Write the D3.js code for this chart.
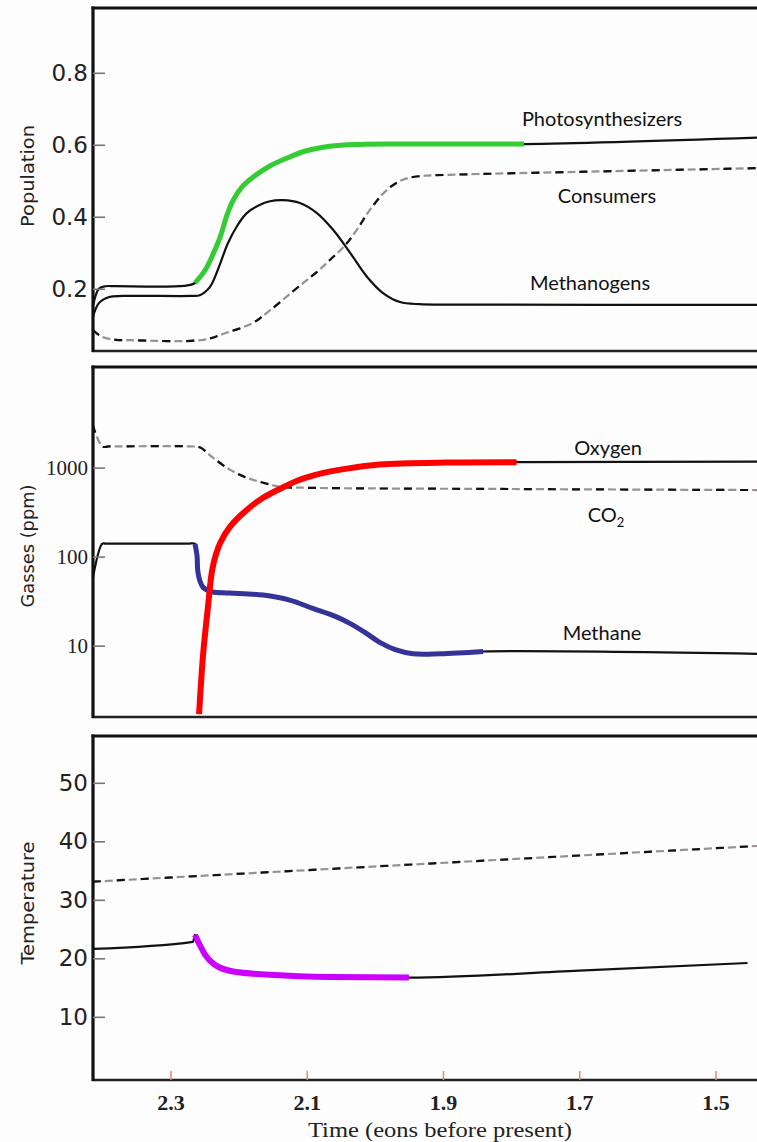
<!DOCTYPE html>
<html><head><meta charset="utf-8">
<script src="https://cdn.jsdelivr.net/npm/d3@7"></script>
<style>body{margin:0;background:#fff} svg{display:block}</style>
</head><body><svg id="chart" width="757" height="1142"></svg>
<script>
// ---------- DATA (time in eons before present) ----------
const xTicks = [2.3, 2.1, 1.9, 1.7, 1.5];
const popTicks = [0.2, 0.4, 0.6, 0.8];
const gasTicks = [10, 100, 1000];
const tempTicks = [10, 20, 30, 40, 50];

const photoTime = [2.414, 2.405, 2.395, 2.380, 2.280, 2.264, 2.249, 2.238, 2.227, 2.217, 2.208, 2.194, 2.179, 2.154, 2.129, 2.103, 2.066, 2.022, 1.963, 1.781, 1.439];
const photoVals = [0.150, 0.200, 0.207, 0.207, 0.208, 0.216, 0.252, 0.294, 0.344, 0.405, 0.446, 0.485, 0.510, 0.541, 0.563, 0.582, 0.596, 0.601, 0.602, 0.602, 0.620];
const photoHighlight = [2.264, 1.781];

const methanogenTime = [2.414, 2.405, 2.390, 2.370, 2.270, 2.257, 2.242, 2.227, 2.216, 2.202, 2.188, 2.170, 2.154, 2.135, 2.110, 2.085, 2.061, 2.036, 2.011, 1.988, 1.963, 1.934, 1.900, 1.439];
const methanogenVals = [0.120, 0.160, 0.177, 0.180, 0.180, 0.182, 0.205, 0.270, 0.325, 0.375, 0.410, 0.432, 0.443, 0.446, 0.438, 0.410, 0.363, 0.299, 0.232, 0.188, 0.163, 0.157, 0.156, 0.155];

const consumerTime = [2.414, 2.400, 2.380, 2.360, 2.252, 2.219, 2.179, 2.154, 2.106, 2.084, 2.066, 2.044, 2.026, 2.007, 1.982, 1.959, 1.934, 1.900, 1.439];
const consumerVals = [0.085, 0.066, 0.058, 0.057, 0.058, 0.077, 0.105, 0.140, 0.215, 0.248, 0.280, 0.320, 0.365, 0.420, 0.475, 0.503, 0.513, 0.516, 0.535];

const co2Time = [2.414, 2.400, 2.390, 2.270, 2.257, 2.238, 2.213, 2.188, 2.164, 2.139, 2.100, 1.800, 1.439];
const co2Vals = [3000, 1730, 1730, 1730, 1690, 1300, 950, 770, 677, 610, 594, 575, 560];

const oxygenTime = [2.258, 2.252, 2.245, 2.238, 2.227, 2.213, 2.188, 2.164, 2.139, 2.114, 2.080, 2.041, 1.993, 1.894, 1.792, 1.439];
const oxygenVals = [1.7, 8.1, 26.9, 76, 142, 215, 335, 458, 579, 713, 855, 974, 1081, 1140, 1150, 1170];
const oxygenHighlight = [2.258, 1.792];

const methaneTime = [2.414, 2.400, 2.395, 2.275, 2.264, 2.261, 2.260, 2.257, 2.252, 2.246, 2.238, 2.213, 2.164, 2.125, 2.091, 2.058, 2.036, 2.014, 1.992, 1.970, 1.944, 1.904, 1.841, 1.439];
const methaneVals = [57, 140, 140, 140, 139, 102, 70, 54, 45, 42, 40, 39, 37, 32.5, 26.2, 21.3, 17.7, 14.0, 10.8, 9.0, 8.1, 8.1, 8.6, 8.1];
const methaneHighlight = [2.264, 1.841];

const tempTime = [2.414, 2.267, 2.264, 2.257, 2.249, 2.235, 2.206, 2.154, 2.066, 1.950, 1.700, 1.453];
const tempVals = [21.6, 22.8, 24.0, 22.3, 20.6, 18.9, 17.7, 17.2, 16.8, 16.7, 17.9, 19.2];
const tempHighlight = [2.264, 1.950];

const tempDashTime = [2.414, 1.919, 1.439];
const tempDashVals = [33.1, 36.2, 39.2];

// ---------- LAYOUT ----------
const svg = d3.select("#chart");
svg.append("rect").attr("width", 757).attr("height", 1142).attr("fill", "#fdfdfd");
const L = 93, R = 770;
const panels = {
  pop: {top: 8, bottom: 351},
  gas: {top: 367, bottom: 717},
  temp: {top: 736, bottom: 1080}
};

const x = d3.scaleLinear().domain([2.4137, 1.4200]).range([L, R]);
const yPop = d3.scaleLinear().domain([0.027, 0.98]).range([panels.pop.bottom, panels.pop.top]);
const yGas = d3.scaleLog().domain([1.58, 13500]).range([panels.gas.bottom, panels.gas.top]);
const yTemp = d3.scaleLinear().domain([-0.8, 58]).range([panels.temp.bottom, panels.temp.top]);

const zip = (t, v) => t.map((d, i) => ({t: d, v: v[i]}));
const within = (data, h) => data.filter(d => d.t <= h[0] + 1e-9 && d.t >= h[1] - 1e-9);

const defs = svg.append("defs");
Object.entries(panels).forEach(([k, p]) => {
  defs.append("clipPath").attr("id", "clip-" + k)
    .append("rect").attr("x", L).attr("y", p.top).attr("width", R - L).attr("height", p.bottom - p.top);
});

const smooth = d3.curveCatmullRom.alpha(0.5);
function drawLine(g, data, y, opts) {
  const gen = d3.line().x(d => x(d.t)).y(d => y(d.v)).curve(opts.curve || smooth);
  if (opts.dashed) {
    g.append("path").attr("d", gen(data)).attr("fill", "none")
      .attr("stroke", "#9b918c").attr("stroke-width", 2.2).attr("stroke-dasharray", "8,4");
    g.append("path").attr("d", gen(data)).attr("fill", "none")
      .attr("stroke", "#111").attr("stroke-width", 2.2).attr("stroke-dasharray", "8,16");
  } else {
    g.append("path").attr("d", gen(data)).attr("fill", "none")
      .attr("stroke", opts.color || "#111").attr("stroke-width", opts.width || 2.2)
      .attr("stroke-linecap", "butt").attr("stroke-linejoin", "round");
  }
}

function frame(p) {
  const g = svg.append("g");
  g.append("line").attr("x1", L - 1.5).attr("x2", R).attr("y1", p.top).attr("y2", p.top)
    .attr("stroke", "#111").attr("stroke-width", 3);
  g.append("line").attr("x1", L - 1).attr("x2", R).attr("y1", p.bottom).attr("y2", p.bottom)
    .attr("stroke", "#222").attr("stroke-width", 2.4);
  g.append("line").attr("x1", L).attr("x2", L).attr("y1", p.top - 1.5).attr("y2", p.bottom + 1)
    .attr("stroke", "#111").attr("stroke-width", 3.2);
}

function yAxis(scale, ticks, fmt, font, size) {
  const g = svg.append("g").attr("transform", `translate(${L},0)`)
    .call(d3.axisLeft(scale).tickValues(ticks).tickSize(-12).tickPadding(5).tickFormat(fmt));
  g.select(".domain").remove();
  g.selectAll(".tick line").attr("stroke", "#777").attr("stroke-width", 1.6);
  g.selectAll(".tick text").attr("fill", "#222").style("font-family", font).style("font-size", size + "px");
}

function yTitle(text, cy, len) {
  svg.append("text").attr("transform", `translate(34,${cy}) rotate(-90)`)
    .attr("text-anchor", "middle").attr("fill", "#222")
    .style("font-family", "DejaVu Sans").style("font-size", "17px")
    .attr("textLength", len).attr("lengthAdjust", "spacingAndGlyphs")
    .text(text);
}

function seriesLabel(text, cx, base) {
  return svg.append("text").attr("x", cx).attr("y", base).attr("text-anchor", "middle")
    .attr("fill", "#111").style("font-family", "Lato").style("font-size", "20px").text(text);
}

// ---------- TOP PANEL: Population ----------
const gPop = svg.append("g").attr("clip-path", "url(#clip-pop)");
const photo = zip(photoTime, photoVals);
drawLine(gPop, zip(consumerTime, consumerVals), yPop, {dashed: true});
drawLine(gPop, zip(methanogenTime, methanogenVals), yPop, {});
drawLine(gPop, photo, yPop, {});
drawLine(gPop, within(photo, photoHighlight), yPop, {color: "#33cc33", width: 5});
frame(panels.pop);
yAxis(yPop, popTicks, d3.format(".1f"), "DejaVu Sans", 23);
yTitle("Population", 176, 102);
seriesLabel("Photosynthesizers", 602, 126);
seriesLabel("Consumers", 607, 203);
seriesLabel("Methanogens", 590, 290);

// ---------- MIDDLE PANEL: Gasses ----------
const gGas = svg.append("g").attr("clip-path", "url(#clip-gas)");
const oxy = zip(oxygenTime, oxygenVals);
const meth = zip(methaneTime, methaneVals);
drawLine(gGas, zip(co2Time, co2Vals), yGas, {dashed: true});
drawLine(gGas, oxy, yGas, {});
drawLine(gGas, meth, yGas, {});
drawLine(gGas, within(meth, methaneHighlight), yGas, {color: "#333399", width: 5});
drawLine(gGas, within(oxy, oxygenHighlight), yGas, {color: "#ff0000", width: 6});
frame(panels.gas);
yAxis(yGas, gasTicks, d => String(d), "Liberation Serif", 21);
yTitle("Gasses (ppm)", 546, 123);
seriesLabel("Oxygen", 608, 455);
const co2Label = seriesLabel("CO", 606, 522);
co2Label.append("tspan").attr("dy", 5).style("font-size", "13px").text("2");
seriesLabel("Methane", 602, 640);

// ---------- BOTTOM PANEL: Temperature ----------
const gTemp = svg.append("g").attr("clip-path", "url(#clip-temp)");
const temp = zip(tempTime, tempVals);
drawLine(gTemp, zip(tempDashTime, tempDashVals), yTemp, {dashed: true, curve: d3.curveMonotoneX});
drawLine(gTemp, temp, yTemp, {curve: d3.curveMonotoneX});
drawLine(gTemp, within(temp, tempHighlight), yTemp, {color: "#cc00ff", width: 6, curve: d3.curveMonotoneX});
frame(panels.temp);
yAxis(yTemp, tempTicks, d => String(d), "DejaVu Sans", 23);
yTitle("Temperature", 903, 123);

// ---------- X AXIS ----------
const gx = svg.append("g").attr("transform", `translate(0,${panels.temp.bottom})`)
  .call(d3.axisBottom(x).tickValues(xTicks).tickSize(-9).tickPadding(14).tickFormat(d3.format(".1f")));
gx.select(".domain").remove();
gx.selectAll(".tick line").attr("stroke", "#e8866a").attr("stroke-width", 1.5);
gx.selectAll(".tick text").attr("fill", "#222").style("font-family", "Liberation Serif")
  .style("font-size", "22px").style("font-weight", "bold");

svg.append("text").attr("x", 440).attr("y", 1137).attr("text-anchor", "middle")
  .attr("fill", "#222").style("font-family", "Liberation Serif").style("font-size", "20px")
  .attr("textLength", 264).attr("lengthAdjust", "spacingAndGlyphs")
  .text("Time (eons before present)");
</script></body></html>
